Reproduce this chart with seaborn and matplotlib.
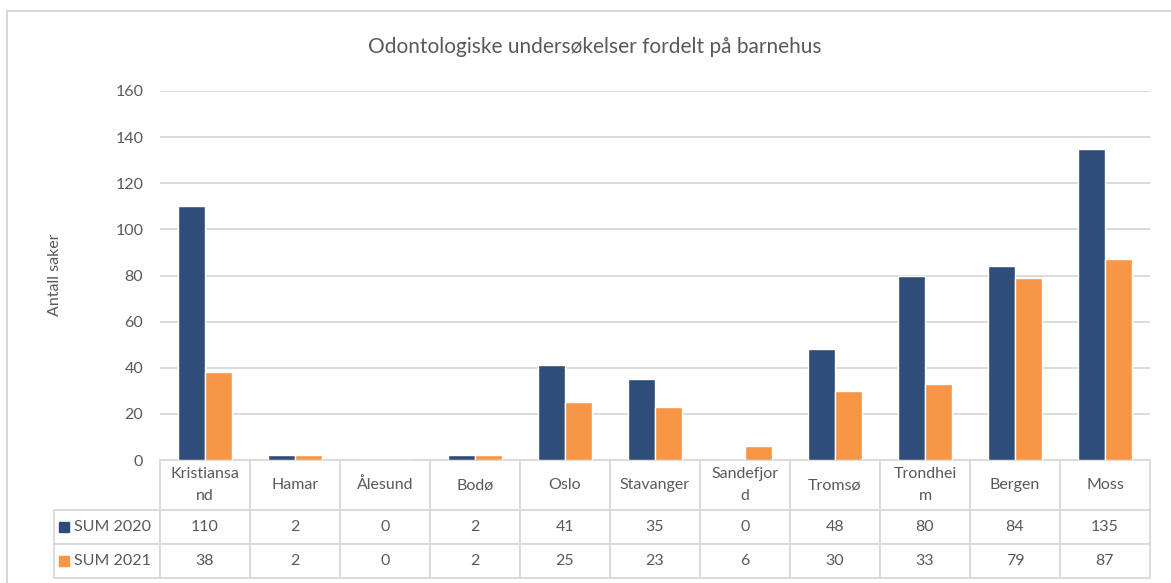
import matplotlib.pyplot as plt
import seaborn as sns
import pandas as pd
from matplotlib.patches import Rectangle

# Data
categories = ['Kristiansand', 'Hamar', 'Ålesund', 'Bodø', 'Oslo', 'Stavanger',
              'Sandefjord', 'Tromsø', 'Trondheim', 'Bergen', 'Moss']
table_labels = ['Kristiansa\nnd', 'Hamar', 'Ålesund', 'Bodø', 'Oslo', 'Stavanger',
                'Sandefjor\nd', 'Tromsø', 'Trondhei\nm', 'Bergen', 'Moss']
series = ['SUM 2020', 'SUM 2021']
sum_2020 = [110, 2, 0, 2, 41, 35, 0, 48, 80, 84, 135]
sum_2021 = [38, 2, 0, 2, 25, 23, 6, 30, 33, 79, 87]
colors = ['#2E4D78', '#F79646']

df = pd.DataFrame({
    'barnehus': categories * 2,
    'serie': [series[0]] * len(categories) + [series[1]] * len(categories),
    'antall': sum_2020 + sum_2021,
})

sns.set_style('white')
plt.rcParams['font.family'] = ['Lato', 'DejaVu Sans']
text_color = '#595959'
grid_color = '#d9d9d9'

W, H = 1171, 583
AX_W, AX_H = 990, 369
fig = plt.figure(figsize=(W / 100, H / 100), dpi=100)
ax = fig.add_axes([160 / W, 1 - 460 / H, AX_W / W, AX_H / H])

sns.barplot(data=df, x='barnehus', y='antall', hue='serie', palette=colors,
            width=0.6, saturation=1, ax=ax, legend=False)

ax.set_xlim(-0.5, len(categories) - 0.5)
ax.set_ylim(0, 160)
ax.set_yticks(range(0, 161, 20))
ax.yaxis.grid(True, color=grid_color, lw=1.3)
ax.set_axisbelow(True)
ax.set_xticks([])
ax.set_xlabel('')
ax.set_ylabel('')
ax.tick_params(axis='y', length=0, pad=12, labelsize=11.5, labelcolor=text_color)
for s in ax.spines.values():
    s.set_visible(False)

# data table under the plot (bbox covers the data columns, row labels hang left)
cell_text = [[str(v) for v in sum_2020], [str(v) for v in sum_2021]]
tab = ax.table(cellText=cell_text, rowLabels=series, colLabels=table_labels,
               cellLoc='center', rowLoc='left',
               bbox=[0, -118 / AX_H, 1, 118 / AX_H])
tab.auto_set_font_size(False)
tab.set_fontsize(11.5)
for (r, c), cell in tab.get_celld().items():
    cell.set_edgecolor(grid_color)
    cell.set_linewidth(1.3)
    cell.get_text().set_color(text_color)
    cell.set_height((50 if r == 0 else 34) / AX_H)
    cell.set_width((108 if c == -1 else 90) / AX_W)
    if r == 0:
        cell.get_text().set_linespacing(1.75)
    if c == -1:
        cell.PAD = 0.19

# legend keys in the row label cells
for i, col in enumerate(colors):
    yc = (-50 - 34 * i - 17) / AX_H
    ax.add_patch(Rectangle((-101 / AX_W, yc - 5 / AX_H), 10 / AX_W, 10 / AX_H,
                           transform=ax.transAxes, color=col, clip_on=False))

fig.text(595 / W, 1 - 47 / H, 'Odontologiske undersøkelser fordelt på barnehus',
         ha='center', va='center', fontsize=15, color=text_color)
fig.text(55 / W, 1 - 275 / H, 'Antall saker', rotation=90,
         ha='center', va='center', fontsize=11.5, color=text_color)

# outer chart border
fig.patches.append(Rectangle((6.5 / W, -0.05), 1.2, 1 - 10.5 / H + 0.05,
                             transform=fig.transFigure, fill=False,
                             ec=grid_color, lw=1.5))

fig.savefig('out.png', dpi=100)
